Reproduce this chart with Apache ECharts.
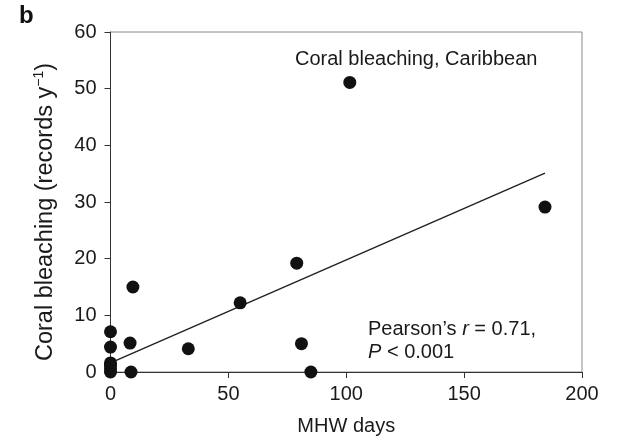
<!DOCTYPE html>
<html>
<head>
<meta charset="utf-8">
<script src="https://cdn.jsdelivr.net/npm/echarts@6/dist/echarts.min.js"></script>
<style>
  html, body { margin: 0; padding: 0; background: #fff; }
  #chart { width: 621px; height: 442px; }
</style>
</head>
<body>
<div id="chart"></div>
<script>
// MHW days (x) and coral bleaching records per year (y), Caribbean
const mhwDays   = [0, 0, 0, 0, 0, 0, 8.3, 8.7, 9.5, 33, 55, 79, 81, 85, 101.5, 184.3];
const bleaching = [0, 0.6, 1.2, 1.6, 4.4, 7.1, 5.1, 0, 15, 4.1, 12.2, 19.2, 5, 0, 51.1, 29.1];

// Least-squares fit endpoints
const fitX = [0, 184.3];
const fitY = [1.6, 35.1];

const xTicks = [0, 50, 100, 150, 200];
const yTicks = [0, 10, 20, 30, 40, 50, 60];

const FONT = '"Liberation Sans", Arial, Helvetica, sans-serif';
const INK = '#1a1a1a';

const points = mhwDays.map((x, i) => [x, bleaching[i]]);
const fitLine = fitX.map((x, i) => [x, fitY[i]]);

const chart = echarts.init(document.getElementById('chart'), null, { renderer: 'canvas' });

chart.setOption({
  animation: false,
  backgroundColor: '#fff',
  textStyle: { fontFamily: FONT, color: INK },
  grid: {
    left: 110.5, right: 39, top: 32, bottom: 70,
    show: true, borderColor: '#8a8a8a', borderWidth: 1, backgroundColor: 'transparent'
  },
  xAxis: {
    type: 'value',
    min: xTicks[0], max: xTicks[xTicks.length - 1], interval: 50,
    name: 'MHW days',
    nameLocation: 'middle',
    nameGap: 44,
    nameTextStyle: { fontSize: 20, color: INK, fontFamily: FONT },
    axisLine: { show: true, onZero: false, lineStyle: { color: '#333', width: 1 } },
    axisTick: { show: true, inside: false, length: 6, lineStyle: { color: '#333' } },
    axisLabel: { fontSize: 20, color: INK, margin: 12, fontFamily: FONT },
    splitLine: { show: false }
  },
  yAxis: {
    type: 'value',
    min: yTicks[0], max: yTicks[yTicks.length - 1], interval: 10,
    name: '{t|Coral bleaching (records y}{s|−1}{t|)}',
    nameLocation: 'middle',
    nameGap: 52,
    nameRotate: 90,
    nameTextStyle: {
      fontFamily: FONT, color: INK,
      padding: [0, 20, 0, 0],
      rich: {
        t: { fontSize: 23.5, lineHeight: 26, fontFamily: FONT, color: INK },
        s: { fontSize: 14, lineHeight: 14, verticalAlign: 'top', fontFamily: FONT, color: INK }
      }
    },
    axisLine: { show: true, onZero: false, lineStyle: { color: '#333', width: 1 } },
    axisTick: { show: true, inside: false, length: 6, lineStyle: { color: '#333' } },
    axisLabel: { fontSize: 20, color: INK, margin: 14, fontFamily: FONT },
    splitLine: { show: false }
  },
  series: [
    {
      type: 'line',
      data: fitLine,
      symbol: 'none',
      lineStyle: { color: '#222', width: 1.5 },
      z: 2,
      silent: true
    },
    {
      type: 'scatter',
      data: points,
      symbol: 'circle',
      symbolSize: 13,
      itemStyle: { color: '#111', opacity: 1 },
      z: 3
    }
  ],
  graphic: [
    {
      type: 'text', left: 19, top: 4,
      style: { text: 'b', fontFamily: FONT, fontSize: 24, fontWeight: 'bold', fill: '#111' }
    },
    {
      type: 'text', x: 295, y: 59,
      style: {
        text: 'Coral bleaching, Caribbean',
        fontFamily: FONT, fontSize: 20, fill: INK, verticalAlign: 'middle'
      }
    },
    {
      type: 'text', x: 368, y: 329,
      style: {
        text: '{n|Pearson’s }{i|r}{n| = 0.71,}',
        verticalAlign: 'middle',
        rich: {
          n: { fontFamily: FONT, fontSize: 20, fill: INK },
          i: { fontFamily: FONT, fontSize: 20, fontStyle: 'italic', fill: INK }
        }
      }
    },
    {
      type: 'text', x: 368, y: 352,
      style: {
        text: '{i|P}{n| < 0.001}',
        verticalAlign: 'middle',
        rich: {
          n: { fontFamily: FONT, fontSize: 20, fill: INK },
          i: { fontFamily: FONT, fontSize: 20, fontStyle: 'italic', fill: INK }
        }
      }
    }
  ]
});
</script>
</body>
</html>
